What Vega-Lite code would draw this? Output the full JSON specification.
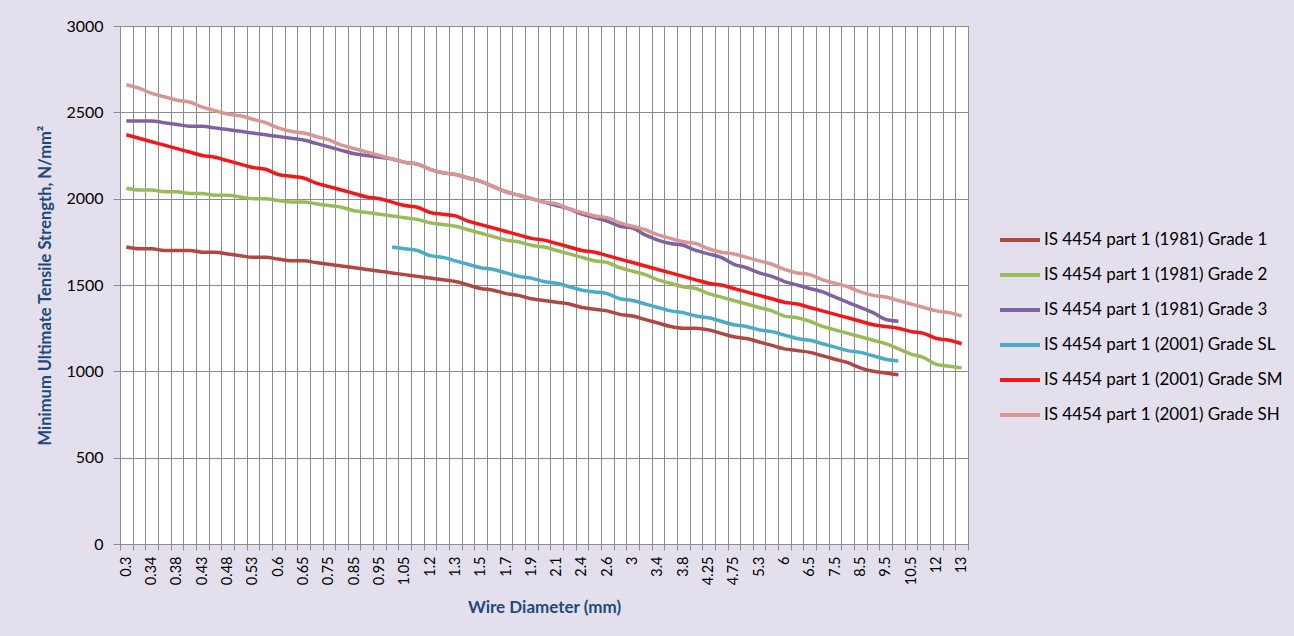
{
  "$schema": "https://vega.github.io/schema/vega-lite/v6.json",
  "width": 848,
  "height": 518,
  "autosize": {"type": "none"},
  "padding": {"left": 120, "top": 26, "right": 326, "bottom": 92},
  "background": "#E4DFEC",
  "config": {
    "view": {"fill": "white", "stroke": "#8C8C8C"},
    "font": "Lato"
  },
  "encoding": {
    "x": {
      "field": "d",
      "type": "ordinal",
      "scale": {
        "type": "band",
        "paddingInner": 0,
        "paddingOuter": 0,
        "domain": ["0.3","0.32","0.34","0.36","0.38","0.4","0.43","0.45","0.48","0.5","0.53","0.56","0.6","0.63","0.65","0.7","0.75","0.8","0.85","0.9","0.95","1","1.05","1.1","1.2","1.25","1.3","1.4","1.5","1.6","1.7","1.8","1.9","2","2.1","2.25","2.4","2.5","2.6","2.8","3","3.2","3.4","3.6","3.8","4","4.25","4.5","4.75","5","5.3","5.6","6","6.3","6.5","7","7.5","8","8.5","9","9.5","10","10.5","11","12","12.5","13"]
      },
      "axis": {
        "title": "Wire Diameter (mm)",
        "labelAngle": 270,
        "labelExpr": "indexof(['0.3','0.34','0.38','0.43','0.48','0.53','0.6','0.65','0.75','0.85','0.95','1.05','1.2','1.3','1.5','1.7','1.9','2.1','2.4','2.6','3','3.4','3.8','4.25','4.75','5.3','6','6.5','7.5','8.5','9.5','10.5','12','13'], datum.label) >= 0 ? datum.label : ''",
        "labelOverlap": false,
        "tickBand": "extent",
        "grid": true,
        "gridColor": "#8C8C8C",
        "gridOpacity": 1,
        "domainColor": "#8C8C8C",
        "tickColor": "#8C8C8C",
        "tickSize": 6,
        "labelFontSize": 14.5,
        "labelColor": "black",
        "labelPadding": 6,
        "titleFontSize": 17,
        "titleFontWeight": "bold",
        "titleColor": "#1F497D",
        "titlePadding": 15
      }
    },
    "y": {
      "field": "v",
      "type": "quantitative",
      "scale": {"domain": [0, 3000]},
      "axis": {
        "title": "Minimum Ultimate Tensile Strength, N/mm²",
        "values": [0, 500, 1000, 1500, 2000, 2500, 3000],
        "format": "d",
        "grid": true,
        "gridColor": "#8C8C8C",
        "gridOpacity": 1,
        "domainColor": "#8C8C8C",
        "tickColor": "#8C8C8C",
        "tickSize": 7,
        "labelFontSize": 16,
        "labelColor": "black",
        "labelPadding": 10,
        "titleFontSize": 16.5,
        "titleFontWeight": "bold",
        "titleColor": "#1F497D",
        "titlePadding": 12
      }
    },
    "order": {"value": null}
  },
  "layer": [
    {
      "data": {"values": [
        {"d":"0.3","v":1720},{"d":"0.32","v":1710},{"d":"0.34","v":1710},{"d":"0.36","v":1700},{"d":"0.38","v":1700},{"d":"0.4","v":1700},{"d":"0.43","v":1690},{"d":"0.45","v":1690},{"d":"0.48","v":1680},{"d":"0.5","v":1670},
        {"d":"0.53","v":1660},{"d":"0.56","v":1660},{"d":"0.6","v":1650},{"d":"0.63","v":1640},{"d":"0.65","v":1640},{"d":"0.7","v":1630},{"d":"0.75","v":1620},{"d":"0.8","v":1610},{"d":"0.85","v":1600},{"d":"0.9","v":1590},
        {"d":"0.95","v":1580},{"d":"1","v":1570},{"d":"1.05","v":1560},{"d":"1.1","v":1550},{"d":"1.2","v":1540},{"d":"1.25","v":1530},{"d":"1.3","v":1520},{"d":"1.4","v":1500},{"d":"1.5","v":1480},{"d":"1.6","v":1470},
        {"d":"1.7","v":1450},{"d":"1.8","v":1440},{"d":"1.9","v":1420},{"d":"2","v":1410},{"d":"2.1","v":1400},{"d":"2.25","v":1390},{"d":"2.4","v":1370},{"d":"2.5","v":1360},{"d":"2.6","v":1350},{"d":"2.8","v":1330},
        {"d":"3","v":1320},{"d":"3.2","v":1300},{"d":"3.4","v":1280},{"d":"3.6","v":1260},{"d":"3.8","v":1250},{"d":"4","v":1250},{"d":"4.25","v":1240},{"d":"4.5","v":1220},{"d":"4.75","v":1200},{"d":"5","v":1190},
        {"d":"5.3","v":1170},{"d":"5.6","v":1150},{"d":"6","v":1130},{"d":"6.3","v":1120},{"d":"6.5","v":1110},{"d":"7","v":1090},{"d":"7.5","v":1070},{"d":"8","v":1050},{"d":"8.5","v":1020},{"d":"9","v":1000},
        {"d":"9.5","v":990},{"d":"10","v":980}
      ]},
      "mark": {"type": "line", "strokeWidth": 3.5, "interpolate": "monotone"},
      "encoding": {
        "color": {
          "datum": "IS 4454 part 1 (1981) Grade 1",
          "type": "nominal",
          "scale": {
            "domain": ["IS 4454 part 1 (1981) Grade 1","IS 4454 part 1 (1981) Grade 2","IS 4454 part 1 (1981) Grade 3","IS 4454 part 1 (2001) Grade SL","IS 4454 part 1 (2001) Grade SM","IS 4454 part 1 (2001) Grade SH"],
            "range": ["#AF4742","#9BBB59","#7F63A1","#4BACC6","#F01818","#D99694"]
          },
          "legend": {
            "orient": "none",
            "legendX": 878,
            "legendY": 192,
            "title": null,
            "direction": "vertical",
            "symbolType": "stroke",
            "symbolStrokeWidth": 4,
            "symbolSize": 1600,
            "labelFontSize": 17,
            "labelColor": "black",
            "labelOffset": 2,
            "rowPadding": 5,
            "labelLimit": 400
          }
        }
      }
    },
    {
      "data": {"values": [
        {"d":"0.3","v":2060},{"d":"0.32","v":2050},{"d":"0.34","v":2050},{"d":"0.36","v":2040},{"d":"0.38","v":2040},{"d":"0.4","v":2030},{"d":"0.43","v":2030},{"d":"0.45","v":2020},{"d":"0.48","v":2020},{"d":"0.5","v":2010},
        {"d":"0.53","v":2000},{"d":"0.56","v":2000},{"d":"0.6","v":1990},{"d":"0.63","v":1980},{"d":"0.65","v":1980},{"d":"0.7","v":1970},{"d":"0.75","v":1960},{"d":"0.8","v":1950},{"d":"0.85","v":1930},{"d":"0.9","v":1920},
        {"d":"0.95","v":1910},{"d":"1","v":1900},{"d":"1.05","v":1890},{"d":"1.1","v":1880},{"d":"1.2","v":1860},{"d":"1.25","v":1850},{"d":"1.3","v":1840},{"d":"1.4","v":1820},{"d":"1.5","v":1800},{"d":"1.6","v":1780},
        {"d":"1.7","v":1760},{"d":"1.8","v":1750},{"d":"1.9","v":1730},{"d":"2","v":1720},{"d":"2.1","v":1700},{"d":"2.25","v":1680},{"d":"2.4","v":1660},{"d":"2.5","v":1640},{"d":"2.6","v":1630},{"d":"2.8","v":1600},
        {"d":"3","v":1580},{"d":"3.2","v":1560},{"d":"3.4","v":1530},{"d":"3.6","v":1510},{"d":"3.8","v":1490},{"d":"4","v":1480},{"d":"4.25","v":1450},{"d":"4.5","v":1430},{"d":"4.75","v":1410},{"d":"5","v":1390},
        {"d":"5.3","v":1370},{"d":"5.6","v":1350},{"d":"6","v":1320},{"d":"6.3","v":1310},{"d":"6.5","v":1290},{"d":"7","v":1260},{"d":"7.5","v":1240},{"d":"8","v":1220},{"d":"8.5","v":1200},{"d":"9","v":1180},
        {"d":"9.5","v":1160},{"d":"10","v":1130},{"d":"10.5","v":1100},{"d":"11","v":1080},{"d":"12","v":1040},{"d":"12.5","v":1030},{"d":"13","v":1020}
      ]},
      "mark": {"type": "line", "strokeWidth": 3.5, "interpolate": "monotone"},
      "encoding": {"color": {"datum": "IS 4454 part 1 (1981) Grade 2", "type": "nominal"}}
    },
    {
      "data": {"values": [
        {"d":"0.3","v":2450},{"d":"0.32","v":2450},{"d":"0.34","v":2450},{"d":"0.36","v":2440},{"d":"0.38","v":2430},{"d":"0.4","v":2420},{"d":"0.43","v":2420},{"d":"0.45","v":2410},{"d":"0.48","v":2400},{"d":"0.5","v":2390},
        {"d":"0.53","v":2380},{"d":"0.56","v":2370},{"d":"0.6","v":2360},{"d":"0.63","v":2350},{"d":"0.65","v":2340},{"d":"0.7","v":2320},{"d":"0.75","v":2300},{"d":"0.8","v":2280},{"d":"0.85","v":2260},{"d":"0.9","v":2250},
        {"d":"0.95","v":2240},{"d":"1","v":2230},{"d":"1.05","v":2210},{"d":"1.1","v":2200},{"d":"1.2","v":2170},{"d":"1.25","v":2150},{"d":"1.3","v":2140},{"d":"1.4","v":2120},{"d":"1.5","v":2100},{"d":"1.6","v":2070},
        {"d":"1.7","v":2040},{"d":"1.8","v":2020},{"d":"1.9","v":2000},{"d":"2","v":1980},{"d":"2.1","v":1960},{"d":"2.25","v":1940},{"d":"2.4","v":1910},{"d":"2.5","v":1890},{"d":"2.6","v":1870},{"d":"2.8","v":1840},
        {"d":"3","v":1830},{"d":"3.2","v":1790},{"d":"3.4","v":1760},{"d":"3.6","v":1740},{"d":"3.8","v":1730},{"d":"4","v":1700},{"d":"4.25","v":1680},{"d":"4.5","v":1660},{"d":"4.75","v":1620},{"d":"5","v":1600},
        {"d":"5.3","v":1570},{"d":"5.6","v":1550},{"d":"6","v":1520},{"d":"6.3","v":1500},{"d":"6.5","v":1480},{"d":"7","v":1460},{"d":"7.5","v":1430},{"d":"8","v":1400},{"d":"8.5","v":1370},{"d":"9","v":1340},
        {"d":"9.5","v":1300},{"d":"10","v":1290}
      ]},
      "mark": {"type": "line", "strokeWidth": 3.5, "interpolate": "monotone"},
      "encoding": {"color": {"datum": "IS 4454 part 1 (1981) Grade 3", "type": "nominal"}}
    },
    {
      "data": {"values": [
        {"d":"1","v":1720},{"d":"1.05","v":1710},{"d":"1.1","v":1700},{"d":"1.2","v":1670},{"d":"1.25","v":1660},{"d":"1.3","v":1640},{"d":"1.4","v":1620},{"d":"1.5","v":1600},{"d":"1.6","v":1590},
        {"d":"1.7","v":1570},{"d":"1.8","v":1550},{"d":"1.9","v":1540},{"d":"2","v":1520},{"d":"2.1","v":1510},{"d":"2.25","v":1490},{"d":"2.4","v":1470},{"d":"2.5","v":1460},{"d":"2.6","v":1450},{"d":"2.8","v":1420},
        {"d":"3","v":1410},{"d":"3.2","v":1390},{"d":"3.4","v":1370},{"d":"3.6","v":1350},{"d":"3.8","v":1340},{"d":"4","v":1320},{"d":"4.25","v":1310},{"d":"4.5","v":1290},{"d":"4.75","v":1270},{"d":"5","v":1260},
        {"d":"5.3","v":1240},{"d":"5.6","v":1230},{"d":"6","v":1210},{"d":"6.3","v":1190},{"d":"6.5","v":1180},{"d":"7","v":1160},{"d":"7.5","v":1140},{"d":"8","v":1120},{"d":"8.5","v":1110},{"d":"9","v":1090},
        {"d":"9.5","v":1070},{"d":"10","v":1060}
      ]},
      "mark": {"type": "line", "strokeWidth": 3.5, "interpolate": "monotone"},
      "encoding": {"color": {"datum": "IS 4454 part 1 (2001) Grade SL", "type": "nominal"}}
    },
    {
      "data": {"values": [
        {"d":"0.3","v":2370},{"d":"0.32","v":2350},{"d":"0.34","v":2330},{"d":"0.36","v":2310},{"d":"0.38","v":2290},{"d":"0.4","v":2270},{"d":"0.43","v":2250},{"d":"0.45","v":2240},{"d":"0.48","v":2220},{"d":"0.5","v":2200},
        {"d":"0.53","v":2180},{"d":"0.56","v":2170},{"d":"0.6","v":2140},{"d":"0.63","v":2130},{"d":"0.65","v":2120},{"d":"0.7","v":2090},{"d":"0.75","v":2070},{"d":"0.8","v":2050},{"d":"0.85","v":2030},{"d":"0.9","v":2010},
        {"d":"0.95","v":2000},{"d":"1","v":1980},{"d":"1.05","v":1960},{"d":"1.1","v":1950},{"d":"1.2","v":1920},{"d":"1.25","v":1910},{"d":"1.3","v":1900},{"d":"1.4","v":1870},{"d":"1.5","v":1850},{"d":"1.6","v":1830},
        {"d":"1.7","v":1810},{"d":"1.8","v":1790},{"d":"1.9","v":1770},{"d":"2","v":1760},{"d":"2.1","v":1740},{"d":"2.25","v":1720},{"d":"2.4","v":1700},{"d":"2.5","v":1690},{"d":"2.6","v":1670},{"d":"2.8","v":1650},
        {"d":"3","v":1630},{"d":"3.2","v":1610},{"d":"3.4","v":1590},{"d":"3.6","v":1570},{"d":"3.8","v":1550},{"d":"4","v":1530},{"d":"4.25","v":1510},{"d":"4.5","v":1500},{"d":"4.75","v":1480},{"d":"5","v":1460},
        {"d":"5.3","v":1440},{"d":"5.6","v":1420},{"d":"6","v":1400},{"d":"6.3","v":1390},{"d":"6.5","v":1370},{"d":"7","v":1350},{"d":"7.5","v":1330},{"d":"8","v":1310},{"d":"8.5","v":1290},{"d":"9","v":1270},
        {"d":"9.5","v":1260},{"d":"10","v":1250},{"d":"10.5","v":1230},{"d":"11","v":1220},{"d":"12","v":1190},{"d":"12.5","v":1180},{"d":"13","v":1160}
      ]},
      "mark": {"type": "line", "strokeWidth": 3.5, "interpolate": "monotone"},
      "encoding": {"color": {"datum": "IS 4454 part 1 (2001) Grade SM", "type": "nominal"}}
    },
    {
      "data": {"values": [
        {"d":"0.3","v":2660},{"d":"0.32","v":2640},{"d":"0.34","v":2610},{"d":"0.36","v":2590},{"d":"0.38","v":2570},{"d":"0.4","v":2560},{"d":"0.43","v":2530},{"d":"0.45","v":2510},{"d":"0.48","v":2490},{"d":"0.5","v":2480},
        {"d":"0.53","v":2460},{"d":"0.56","v":2440},{"d":"0.6","v":2410},{"d":"0.63","v":2390},{"d":"0.65","v":2380},{"d":"0.7","v":2360},{"d":"0.75","v":2340},{"d":"0.8","v":2310},{"d":"0.85","v":2290},{"d":"0.9","v":2270},
        {"d":"0.95","v":2250},{"d":"1","v":2230},{"d":"1.05","v":2210},{"d":"1.1","v":2200},{"d":"1.2","v":2170},{"d":"1.25","v":2150},{"d":"1.3","v":2140},{"d":"1.4","v":2120},{"d":"1.5","v":2100},{"d":"1.6","v":2070},
        {"d":"1.7","v":2040},{"d":"1.8","v":2020},{"d":"1.9","v":2000},{"d":"2","v":1980},{"d":"2.1","v":1970},{"d":"2.25","v":1940},{"d":"2.4","v":1920},{"d":"2.5","v":1900},{"d":"2.6","v":1890},{"d":"2.8","v":1860},
        {"d":"3","v":1840},{"d":"3.2","v":1820},{"d":"3.4","v":1790},{"d":"3.6","v":1770},{"d":"3.8","v":1750},{"d":"4","v":1740},{"d":"4.25","v":1710},{"d":"4.5","v":1690},{"d":"4.75","v":1680},{"d":"5","v":1660},
        {"d":"5.3","v":1640},{"d":"5.6","v":1620},{"d":"6","v":1590},{"d":"6.3","v":1570},{"d":"6.5","v":1560},{"d":"7","v":1530},{"d":"7.5","v":1510},{"d":"8","v":1490},{"d":"8.5","v":1460},{"d":"9","v":1440},
        {"d":"9.5","v":1430},{"d":"10","v":1410},{"d":"10.5","v":1390},{"d":"11","v":1370},{"d":"12","v":1350},{"d":"12.5","v":1340},{"d":"13","v":1320}
      ]},
      "mark": {"type": "line", "strokeWidth": 3.5, "interpolate": "monotone"},
      "encoding": {"color": {"datum": "IS 4454 part 1 (2001) Grade SH", "type": "nominal"}}
    }
  ]
}
